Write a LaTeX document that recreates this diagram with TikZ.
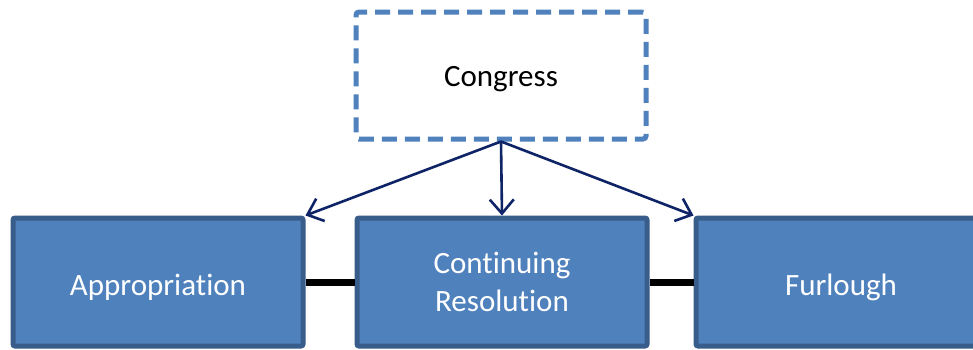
\documentclass[tikz,border=0pt]{standalone}
\usepackage{fontspec}
\setmainfont{Carlito}[Ligatures=NoCommon]
\usetikzlibrary{arrows.meta}
\definecolor{boxfill}{HTML}{4F81BD}
\definecolor{boxline}{HTML}{385D8A}
\definecolor{arrowc}{HTML}{0F2466}
\tikzset{
  bluebox/.style={draw=boxline, fill=boxfill, line width=5pt, rounded corners=2pt,
    minimum width=290pt, minimum height=128pt, text=white, align=center,
    font=\fontsize{31}{38}\selectfont, inner sep=0pt},
  oneline/.style={text height=26pt, text depth=0pt},
  dashbox/.style={draw=boxfill, line width=5pt, dash pattern=on 15pt off 8pt, rounded corners=3pt,
    minimum width=290pt, minimum height=127pt, align=center,
    font=\fontsize{31}{38}\selectfont, inner sep=0pt, text height=21pt, text depth=0pt},
  flow/.style={draw=arrowc, line width=2.6pt, -{Straight Barb[length=14pt,width=24pt,line width=2.6pt]}},
  link/.style={draw=black, line width=7pt}
}
\begin{document}
\begin{tikzpicture}[x=1pt,y=-1pt]
\clip (0,0) rectangle (973,349);
\fill[white] (0,0) rectangle (973,349);
\node[dashbox] (cong) at (501,75.5) {Congress};
\node[bluebox, oneline] (app) at (158,282) {Appropriation};
\node[bluebox] (mid) at (502,282) {Continuing\\Resolution};
\node[bluebox, oneline] (furl) at (841,282) {Furlough};
\draw[link] (app.east) -- (mid.west);
\draw[link] (mid.east) -- (furl.west);
\draw[flow] (cong.south) -- (app.north east);
\draw[flow] (cong.south) -- (mid.north);
\draw[flow] (cong.south) -- (furl.north west);
\end{tikzpicture}
\end{document}
